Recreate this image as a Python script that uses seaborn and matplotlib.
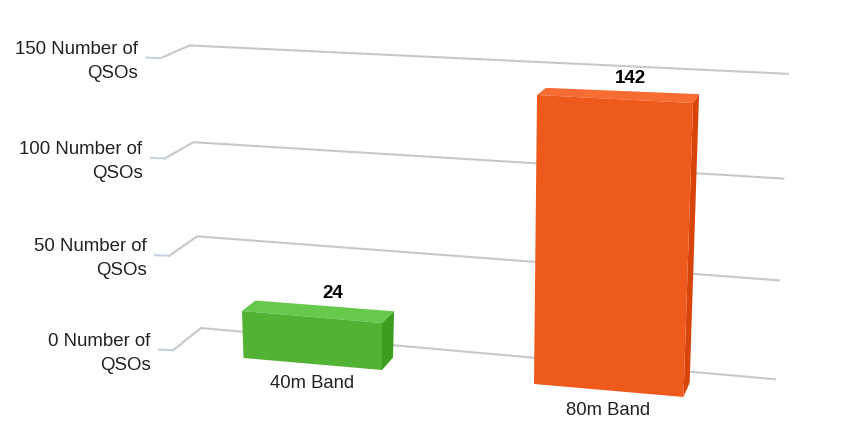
import matplotlib
matplotlib.use('Agg')
import matplotlib.pyplot as plt
from matplotlib.patches import Polygon
from matplotlib.transforms import Affine2D, Transform
import numpy as np
import pandas as pd
import seaborn as sns

# Chart values
bands = ['40m Band', '80m Band']
qsos = [24, 142]
y_ticks = [0, 50, 100, 150]
tick_unit = 'Number of\nQSOs'

# Colours per bar: front, top, side
front_colors = ['#52B233', '#EE591C']
top_colors = ['#67C94C', '#F66C33']
side_colors = ['#3B9E1D', '#D8450B']

BAR_WIDTH = 0.5
W, H = 868, 433

# Camera calibration: (x, y) on a plane -> pixel in the image
FRONT_PLANES = [
    [((-0.25, 0), (243.5, 358)), ((-0.25, 24), (242, 311)),
     ((0.25, 0), (382, 370)), ((0.25, 24), (382, 323))],
    [((0.75, 0), (534, 384)), ((0.75, 142), (537, 95)),
     ((1.25, 0), (683.5, 397)), ((1.25, 142), (693, 103))],
]
BACK_PLANE = [
    ((-0.25, 24), (256, 300)), ((0.25, 24), (393, 312)), ((0.25, 0), (393, 358)),
    ((0.75, 142), (546, 87)), ((1.25, 142), (699, 95)), ((1.25, 0), (690, 382)),
]
WALL_PLANE = [
    ((0, 0), (201, 328)), ((1, 0), (775, 379)),
    ((0, 50), (197, 236)), ((1, 50), (779, 280)),
    ((0, 100), (193, 143)), ((1, 100), (783, 180)),
    ((0, 150), (190, 45)), ((1, 150), (788, 73)),
]
SIDE_WALL_PLANE = [
    ((0, 0), (173, 350.5)), ((1, 0), (201, 328)),
    ((0, 50), (169, 255)), ((1, 50), (197, 236)),
    ((0, 100), (165, 159)), ((1, 100), (193, 143)),
    ((0, 150), (161, 58)), ((1, 150), (190, 45)),
]


def fit_homography(pairs):
    rows = []
    for (x, y), (u, v) in pairs:
        # scale y so the fit is not dominated by the value range
        y = y / 100
        rows.append([x, y, 1, 0, 0, 0, -u * x, -u * y, -u])
        rows.append([0, 0, 0, x, y, 1, -v * x, -v * y, -v])
    return np.linalg.svd(np.array(rows))[2][-1].reshape(3, 3)


def project(h, x, y):
    p = h @ np.array([x, y / 100, 1.0])
    return p[0] / p[2], p[1] / p[2]


class PlaneTransform(Transform):
    input_dims = 2
    output_dims = 2

    def __init__(self, h):
        super().__init__()
        self.h = h

    def transform_non_affine(self, values):
        values = np.asarray(values, dtype=float)
        pts = np.column_stack([values[:, 0], values[:, 1] / 100, np.ones(len(values))])
        out = pts @ self.h.T
        return out[:, :2] / out[:, 2:]


h_fronts = [fit_homography(p) for p in FRONT_PLANES]
h_back = fit_homography(BACK_PLANE)
h_wall = fit_homography(WALL_PLANE)
h_side = fit_homography(SIDE_WALL_PLANE)

plt.rcParams['font.family'] = ['Liberation Sans', 'DejaVu Sans']
fig = plt.figure(figsize=(W / 100, H / 100), dpi=100)
ax = fig.add_axes([0, 0, 1, 1])

df = pd.DataFrame({'band': bands, 'qsos': qsos})
sns.barplot(data=df, x='band', y='qsos', hue='band', palette=front_colors,
            width=BAR_WIDTH, saturation=1, legend=False, ax=ax)
ax.axis('off')

# image pixels (y down) -> display
to_display = Affine2D().scale(1, -1).translate(0, H)

# Gridlines and their left stubs
for tick in y_ticks:
    fx, fy = project(h_side, 0, tick)
    bx, by = project(h_wall, 0, tick)
    rx, ry = project(h_wall, 1, tick)
    ax.plot([fx, bx, rx], [fy, by, ry], color='#C8C8C8', lw=1.5, zorder=1,
            transform=to_display, clip_on=False)
    ax.plot([fx - 14, fx], [fy - 0.5, fy], color='#C6D2E2', lw=1.5, zorder=1,
            transform=to_display, clip_on=False)
    ax.text(fx - 22.5, fy + 3, f'{tick} {tick_unit}', ha='right', va='center',
            multialignment='right', fontsize=13.4, color='#222222',
            linespacing=1.55, transform=to_display)

# Bars: front face comes from seaborn, top and side are built on it
for i, bar in enumerate(ax.patches):
    h_front = h_fronts[i]
    x0, x1 = bar.get_x(), bar.get_x() + bar.get_width()
    top = bar.get_height()
    bar.set_transform(PlaneTransform(h_front) + to_display)
    bar.set_linewidth(0)
    bar.set_zorder(4)

    top_face = [project(h_front, x0, top), project(h_front, x1, top),
                project(h_back, x1, top), project(h_back, x0, top)]
    side_face = [project(h_front, x1, 0), project(h_front, x1, top),
                 project(h_back, x1, top), project(h_back, x1, 0)]
    ax.add_patch(Polygon(top_face, closed=True, fc=top_colors[i], ec='none',
                         zorder=3, transform=to_display))
    ax.add_patch(Polygon(side_face, closed=True, fc=side_colors[i], ec='none',
                         zorder=3, transform=to_display))

    # value above the bar, band name below it
    vx, vy = project(h_back, (x0 + x1) / 2, top)
    ax.text(vx + 8.5, vy - 12, str(qsos[i]), ha='center', va='center',
            fontsize=13.5, fontweight='bold', color='black', transform=to_display, zorder=5)
    lx, ly = project(h_front, (x0 + x1) / 2, 0)
    ax.text(lx - 0.5, ly + 20, bands[i], ha='center', va='center', fontsize=13.3,
            color='#222222', transform=to_display, zorder=5)

fig.savefig('out.png', dpi=100, facecolor='white')
